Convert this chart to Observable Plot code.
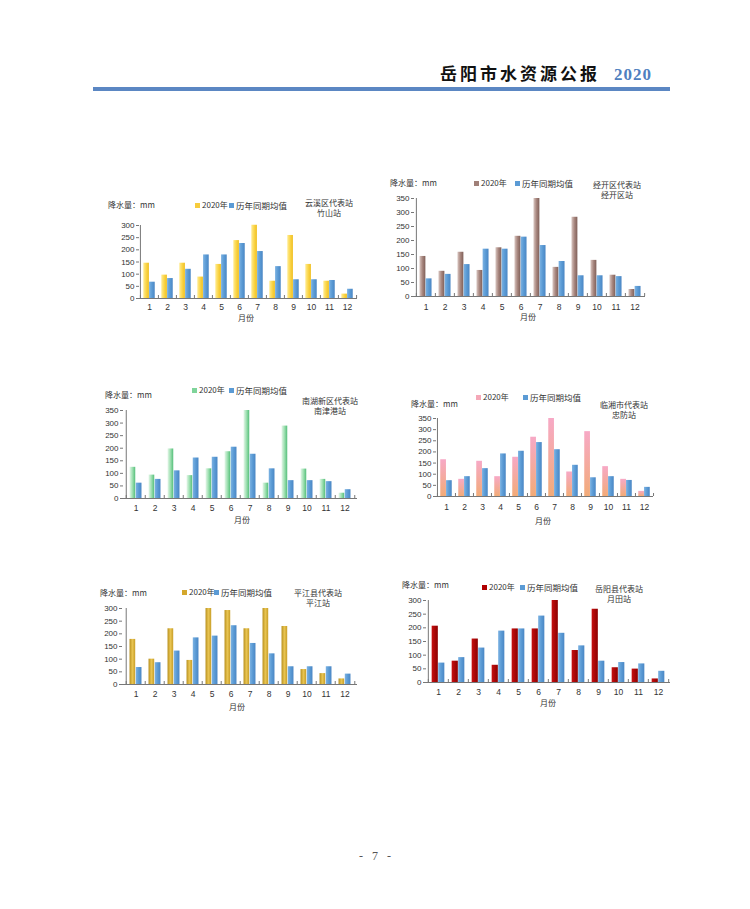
<!DOCTYPE html>
<html><head><meta charset="utf-8">
<script src="https://cdn.jsdelivr.net/npm/d3@7"></script>
<script src="https://cdn.jsdelivr.net/npm/@observablehq/plot@0.6"></script>
<style>
html,body{margin:0;padding:0;background:#fff;}
#page{position:relative;width:750px;height:909px;overflow:hidden;background:#fff;font-family:"Noto Sans CJK SC","Noto Sans",sans-serif;}
.abs{position:absolute;white-space:nowrap;}
.lbl{font-size:8px;color:#333;line-height:10px;}
.sw{position:absolute;width:5px;height:5px;}
</style></head>
<body>
<svg width="0" height="0" style="position:absolute">
<defs>
<linearGradient id="gBlue" x1="0" x2="1" y1="0" y2="0"><stop offset="0" stop-color="#7cb2e2"/><stop offset="0.5" stop-color="#5b9bd5"/><stop offset="1" stop-color="#4a86c4"/></linearGradient>
<linearGradient id="gYellow" x1="0" x2="1" y1="0" y2="0"><stop offset="0" stop-color="#ffec95"/><stop offset="0.5" stop-color="#fbd64a"/><stop offset="1" stop-color="#efbf22"/></linearGradient>
<linearGradient id="gBrown" x1="0" x2="1" y1="0" y2="0"><stop offset="0" stop-color="#d9c6c1"/><stop offset="0.5" stop-color="#a8877f"/><stop offset="1" stop-color="#7f5f58"/></linearGradient>
<linearGradient id="gGreen" x1="0" x2="1" y1="0" y2="0"><stop offset="0" stop-color="#e6f7ea"/><stop offset="0.5" stop-color="#9fe0b2"/><stop offset="1" stop-color="#55bf7a"/></linearGradient>
<linearGradient id="gPink" x1="0" x2="0" y1="0" y2="1"><stop offset="0" stop-color="#f7a9c6"/><stop offset="1" stop-color="#f2ab78"/></linearGradient>
<linearGradient id="gGold" x1="0" x2="1" y1="0" y2="0"><stop offset="0" stop-color="#b8901e"/><stop offset="0.5" stop-color="#e9c552"/><stop offset="1" stop-color="#c89e28"/></linearGradient>
<linearGradient id="gRed" x1="0" x2="1" y1="0" y2="0"><stop offset="0" stop-color="#c81010"/><stop offset="1" stop-color="#8c0000"/></linearGradient>
</defs>
</svg>
<div id="page">
  <div class="abs" style="right:98px;top:63px;font-size:17px;line-height:20px;font-weight:700;color:#111;letter-spacing:3px;">岳阳市水资源公报<span style="font-family:'Liberation Serif',serif;color:#4f7fbf;margin-left:14px;letter-spacing:1px;">2020</span></div>
  <div class="abs" style="left:93px;top:87px;width:577px;height:4px;background:#5b87c3;"></div>
  <div class="abs" style="left:0;width:750px;text-align:center;top:849px;font-family:'Liberation Serif',serif;font-size:12px;color:#555;word-spacing:6px;">- 7 -</div>
</div>
<script>
const months = ["1","2","3","4","5","6","7","8","9","10","11","12"];
const legend2020 = "2020年";
const legendAvg = "历年同期均值";
const unitLabel = "降水量：mm";
const xLabel = "月份";

const yunxi2020 = [145,96,145,88,140,238,301,71,259,140,71,18];
const yunxiAvg  = [67,82,120,179,179,226,193,131,77,77,74,38];
const jingkai2020 = [143,90,158,93,174,215,350,104,283,129,76,25];
const jingkaiAvg  = [63,79,114,169,169,212,182,125,74,74,71,36];
const nanhu2020 = [124,93,197,91,118,186,350,61,288,117,76,21];
const nanhuAvg  = [61,76,110,161,164,204,176,118,71,71,67,35];
const linxiang2020 = [165,77,158,89,176,266,350,110,291,134,77,23];
const linxiangAvg  = [71,89,125,191,203,242,210,140,84,89,72,41];
const pingjiang2020 = [178,100,220,95,300,292,220,300,229,59,43,22];
const pingjiangAvg  = [67,86,132,184,191,232,162,121,70,70,70,41];
const yueyang2020 = [206,78,159,63,196,196,300,117,268,54,49,13];
const yueyangAvg  = [71,91,126,188,196,243,180,134,78,73,68,41];

const charts = [
  {s1:"云溪区代表站", s2:"竹山站", a:yunxi2020, b:yunxiAvg, fill:"url(#gYellow)", sw:"#f7cc3c", ymax:300,
   x0:139, x1:357, yTop:225, yBot:298, unitX:108, unitY:205, l1X:197, l2X:231, legY:205, stX:329, stY:203, monthY:307, xlX:246, xlY:318},
  {s1:"经开区代表站", s2:"经开区站", a:jingkai2020, b:jingkaiAvg, fill:"url(#gBrown)", sw:"#a08078", ymax:350,
   x0:414, x1:645, yTop:198, yBot:296, unitX:390, unitY:183, l1X:476, l2X:517, legY:183, stX:617, stY:185, monthY:307, xlX:528, xlY:317},
  {s1:"南湖新区代表站", s2:"南津港站", a:nanhu2020, b:nanhuAvg, fill:"url(#gGreen)", sw:"#7fd49a", ymax:350,
   x0:123, x1:357, yTop:410, yBot:498, unitX:105, unitY:395, l1X:194, l2X:231, legY:390, stX:330, stY:401, monthY:508, xlX:242, xlY:520},
  {s1:"临湘市代表站", s2:"忠防站", a:linxiang2020, b:linxiangAvg, fill:"url(#gPink)", sw:"#f5a8b8", ymax:350,
   x0:436, x1:653, yTop:418, yBot:496, unitX:411, unitY:404, l1X:478, l2X:525, legY:397, stX:624, stY:405, monthY:507, xlX:543, xlY:521},
  {s1:"平江县代表站", s2:"平江站", a:pingjiang2020, b:pingjiangAvg, fill:"url(#gGold)", sw:"#d4a72c", ymax:300,
   x0:122, x1:357, yTop:608, yBot:684, unitX:100, unitY:593, l1X:184, l2X:216, legY:592, stX:318, stY:593, monthY:694, xlX:237, xlY:707},
  {s1:"岳阳县代表站", s2:"月田站", a:yueyang2020, b:yueyangAvg, fill:"url(#gRed)", sw:"#b00000", ymax:300,
   x0:426, x1:670, yTop:600, yBot:682, unitX:402, unitY:585, l1X:484, l2X:522, legY:587, stX:619, stY:589, monthY:692, xlX:548, xlY:703}
];

const page = document.getElementById("page");
function addText(txt, x, y, opts = {}) {
  const d = document.createElement("div");
  d.className = "abs lbl";
  d.textContent = txt;
  d.style.left = x + "px";
  d.style.top = (y - 5) + "px";
  if (opts.center) { d.style.transform = "translateX(-50%)"; d.style.textAlign = "center"; }
  if (opts.size) d.style.fontSize = opts.size + "px";
  page.appendChild(d);
  return d;
}

for (const c of charts) {
  const mL = 30, mR = 6, mT = 6, mB = 24;
  const w = c.x1 - c.x0 + mL + mR;
  const h = c.yBot - c.yTop + mT + mB;
  const bw = (c.x1 - c.x0) / 12;
  const data = months.map((m, i) => ({m, a: c.a[i], b: c.b[i]}));
  const pxPerUnit = (c.yBot - c.yTop) / c.ymax;
  const tickLen = 3 / pxPerUnit;
  const svg = Plot.plot({
    width: w, height: h, marginLeft: mL, marginRight: mR, marginTop: mT, marginBottom: mB,
    style: {fontFamily: "'Liberation Sans', Arial, sans-serif", fontSize: "8px", color: "#333", background: "transparent", overflow: "visible"},
    x: {type: "band", domain: months, padding: 0, label: null},
    y: {domain: [0, c.ymax], label: null},
    marks: [
      Plot.barY(data, {x: "m", y: "a", fill: c.fill, insetLeft: bw * 0.18, insetRight: bw * 0.5}),
      Plot.barY(data, {x: "m", y: "b", fill: "url(#gBlue)", insetLeft: bw * 0.5, insetRight: bw * 0.18}),
      Plot.ruleY([0], {stroke: "#777"}),
      Plot.ruleX(months, {x: d => d, dx: -bw / 2, y1: 0, y2: tickLen, stroke: "#777"}),
      Plot.ruleX([months[11]], {x: d => d, dx: bw / 2, y1: 0, y2: tickLen, stroke: "#777"}),
      Plot.ruleX([months[0]], {x: d => d, dx: -bw / 2, y1: 0, y2: c.ymax, stroke: "#777"}),
      Plot.axisY({ticks: d3.range(0, c.ymax + 1, 50), tickSize: 3, tickPadding: 2, stroke: "#777", fill: "#333", fontSize: 8, tickFormat: d => d, label: null}),
      Plot.axisX({tickSize: 0, tickPadding: Math.max(0, c.monthY - c.yBot - 4), fill: "#333", fontSize: 8.5, label: null})
    ]
  });
  svg.style.position = "absolute";
  svg.style.left = (c.x0 - mL) + "px";
  svg.style.top = (c.yTop - mT) + "px";
  page.appendChild(svg);

  addText(unitLabel, c.unitX, c.unitY);
  const s1 = document.createElement("div"); s1.className = "sw";
  s1.style.left = c.l1X - 2 + "px"; s1.style.top = (c.legY - 2.5) + "px"; s1.style.background = c.sw; page.appendChild(s1);
  addText(legend2020, c.l1X + 5, c.legY);
  const s2 = document.createElement("div"); s2.className = "sw";
  s2.style.left = c.l2X - 2 + "px"; s2.style.top = (c.legY - 2.5) + "px"; s2.style.background = "#5b9bd5"; page.appendChild(s2);
  addText(legendAvg, c.l2X + 5, c.legY, {size: 8.5});
  addText(c.s1, c.stX, c.stY, {center: true});
  addText(c.s2, c.stX, c.stY + 10, {center: true});
  addText(xLabel, c.xlX, c.xlY, {center: true});
}
</script>
</body></html>
